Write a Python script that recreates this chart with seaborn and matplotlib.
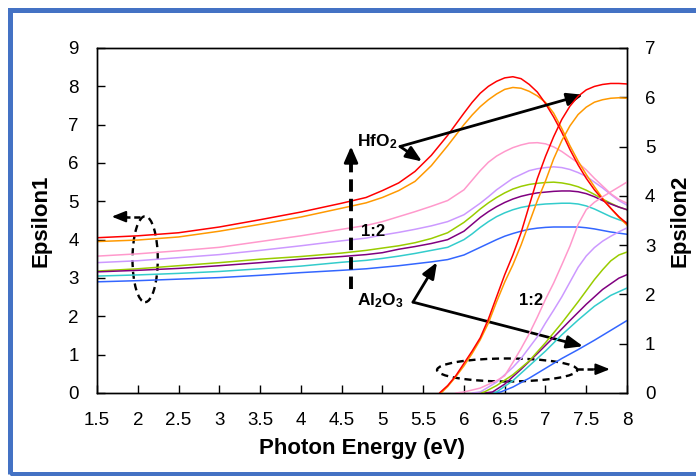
import matplotlib
matplotlib.use("Agg")
import matplotlib.pyplot as plt
from matplotlib.patches import Ellipse, Rectangle
import seaborn as sns

# ---------------- data ----------------
energy_e1 = [1.5, 2.0, 2.5, 3.0, 3.5, 4.0, 4.5, 4.8, 5.0, 5.2, 5.4, 5.6, 5.8, 6.0, 6.1, 6.2, 6.3,
             6.4, 6.5, 6.6, 6.7, 6.8, 6.9, 7.0, 7.1, 7.2, 7.3, 7.4, 7.5, 7.6, 7.7, 7.8, 7.9, 8.0]

e1_red = [4.05, 4.10, 4.18, 4.33, 4.52, 4.72, 4.95, 5.10, 5.28, 5.48, 5.78, 6.20, 6.72, 7.30, 7.58, 7.82, 8.00,
          8.13, 8.22, 8.25, 8.20, 8.05, 7.85, 7.55, 7.20, 6.80, 6.35, 5.95, 5.60, 5.30, 5.05, 4.82, 4.60, 4.42]
e1_orange = [3.95, 3.99, 4.07, 4.22, 4.40, 4.59, 4.82, 4.96, 5.10, 5.28, 5.52, 5.93, 6.45, 7.00, 7.25, 7.47, 7.65,
             7.80, 7.92, 7.97, 7.95, 7.87, 7.75, 7.58, 7.30, 6.90, 6.45, 6.05, 5.70, 5.38, 5.08, 4.82, 4.58, 4.38]
e1_pink = [3.57, 3.63, 3.71, 3.80, 3.95, 4.10, 4.27, 4.37, 4.47, 4.60, 4.73, 4.87, 5.02, 5.30, 5.55, 5.80, 6.02,
           6.18, 6.30, 6.40, 6.47, 6.52, 6.53, 6.50, 6.42, 6.30, 6.15, 6.00, 5.82, 5.60, 5.40, 5.20, 5.05, 4.95]
e1_lavender = [3.40, 3.45, 3.53, 3.61, 3.72, 3.84, 3.97, 4.04, 4.12, 4.19, 4.27, 4.36, 4.47, 4.65, 4.80, 4.95, 5.12,
               5.30, 5.45, 5.60, 5.70, 5.80, 5.85, 5.88, 5.90, 5.88, 5.83, 5.75, 5.65, 5.50, 5.35, 5.18, 5.02, 4.90]
e1_green = [3.18, 3.24, 3.32, 3.40, 3.49, 3.56, 3.65, 3.72, 3.78, 3.84, 3.92, 4.03, 4.18, 4.45, 4.62, 4.80, 4.96,
            5.10, 5.22, 5.32, 5.39, 5.44, 5.47, 5.49, 5.50, 5.48, 5.44, 5.38, 5.29, 5.18, 5.06, 4.95, 4.85, 4.78]
e1_purple = [3.16, 3.20, 3.25, 3.32, 3.40, 3.49, 3.56, 3.61, 3.66, 3.75, 3.82, 3.90, 4.00, 4.22, 4.40, 4.58, 4.73,
             4.86, 4.97, 5.06, 5.13, 5.18, 5.22, 5.24, 5.26, 5.27, 5.27, 5.25, 5.20, 5.12, 5.02, 4.93, 4.85, 4.78]
e1_cyan = [3.05, 3.08, 3.12, 3.17, 3.24, 3.31, 3.41, 3.46, 3.51, 3.57, 3.64, 3.72, 3.80, 4.00, 4.15, 4.32, 4.47,
           4.60, 4.70, 4.78, 4.84, 4.88, 4.91, 4.93, 4.94, 4.95, 4.95, 4.93, 4.88, 4.80, 4.70, 4.60, 4.52, 4.45]
e1_blue = [2.90, 2.93, 2.97, 3.01, 3.07, 3.14, 3.20, 3.24, 3.28, 3.32, 3.37, 3.42, 3.48, 3.60, 3.70, 3.80, 3.90,
           4.00, 4.09, 4.16, 4.22, 4.27, 4.30, 4.32, 4.33, 4.33, 4.33, 4.33, 4.31, 4.28, 4.24, 4.20, 4.17, 4.14]

energy_e2_red = [5.7, 5.8, 5.9, 6.0, 6.1, 6.2, 6.3, 6.4, 6.5, 6.6, 6.7, 6.8, 6.9, 7.0, 7.1, 7.2, 7.3, 7.4,
                 7.5, 7.6, 7.7, 7.8, 7.9, 8.0]
e2_red = [0.0, 0.15, 0.35, 0.60, 0.85, 1.12, 1.50, 1.95, 2.40, 2.80, 3.25, 3.80, 4.35, 4.80, 5.20, 5.55, 5.82,
          6.02, 6.15, 6.22, 6.26, 6.28, 6.28, 6.27]
energy_e2_orange = [5.72, 5.8, 5.9, 6.0, 6.1, 6.2, 6.3, 6.4, 6.5, 6.6, 6.7, 6.8, 6.9, 7.0, 7.1, 7.2, 7.3, 7.4,
                    7.5, 7.6, 7.7, 7.8, 7.9, 8.0]
e2_orange = [0.0, 0.13, 0.33, 0.55, 0.80, 1.08, 1.42, 1.85, 2.25, 2.60, 3.00, 3.45, 3.90, 4.30, 4.75, 5.12, 5.42,
             5.65, 5.80, 5.90, 5.95, 5.98, 5.99, 5.98]
energy_e2_pink = [5.9, 6.0, 6.2, 6.4, 6.5, 6.6, 6.7, 6.8, 6.9, 7.0, 7.1, 7.2, 7.3, 7.4, 7.5, 7.6, 7.7, 7.8, 7.9, 8.0]
e2_pink = [0.0, 0.02, 0.10, 0.25, 0.35, 0.62, 0.90, 1.20, 1.54, 1.90, 2.23, 2.60, 2.98, 3.42, 3.72, 3.87, 3.98,
           4.08, 4.18, 4.28]
energy_e2_lavender = [6.1, 6.2, 6.4, 6.6, 6.7, 6.8, 6.9, 7.0, 7.1, 7.2, 7.3, 7.4, 7.5, 7.6, 7.7, 7.8, 7.9, 8.0]
e2_lavender = [0.0, 0.02, 0.22, 0.52, 0.70, 0.92, 1.14, 1.42, 1.68, 1.95, 2.25, 2.55, 2.78, 2.95, 3.08, 3.18,
               3.27, 3.35]
energy_e2_green = [6.15, 6.25, 6.4, 6.6, 6.8, 7.0, 7.2, 7.4, 7.6, 7.7, 7.8, 7.9, 8.0]
e2_green = [0.0, 0.02, 0.15, 0.37, 0.65, 1.02, 1.42, 1.85, 2.30, 2.50, 2.68, 2.80, 2.86]
energy_e2_purple = [6.25, 6.35, 6.5, 6.7, 6.9, 7.1, 7.3, 7.5, 7.7, 7.9, 8.0]
e2_purple = [0.0, 0.02, 0.18, 0.48, 0.80, 1.13, 1.47, 1.80, 2.10, 2.33, 2.40]
energy_e2_cyan = [6.3, 6.4, 6.6, 6.8, 7.0, 7.2, 7.4, 7.6, 7.8, 8.0]
e2_cyan = [0.0, 0.02, 0.25, 0.55, 0.85, 1.18, 1.48, 1.76, 1.98, 2.13]
energy_e2_blue = [6.35, 6.45, 6.6, 6.8, 7.0, 7.2, 7.4, 7.6, 7.8, 8.0]
e2_blue = [0.0, 0.02, 0.12, 0.30, 0.50, 0.70, 0.88, 1.07, 1.27, 1.47]

x_ticks = [1.5, 2, 2.5, 3, 3.5, 4, 4.5, 5, 5.5, 6, 6.5, 7, 7.5, 8]
x_tick_labels = ["1.5", "2", "2.5", "3", "3.5", "4", "4.5", "5", "5.5", "6", "6.5", "7", "7.5", "8"]
y1_ticks = [0, 1, 2, 3, 4, 5, 6, 7, 8, 9]
y2_ticks = [0, 1, 2, 3, 4, 5, 6, 7]

colors = {"red": "#FF0000", "orange": "#FF9900", "pink": "#FF99CC", "lavender": "#CC99FF",
          "green": "#99CC00", "purple": "#800080", "cyan": "#33CCCC", "blue": "#3366FF"}

e1_series = [("green", e1_green), ("purple", e1_purple), ("blue", e1_blue), ("cyan", e1_cyan),
             ("lavender", e1_lavender), ("pink", e1_pink), ("orange", e1_orange), ("red", e1_red)]
e2_series = [("blue", energy_e2_blue, e2_blue), ("cyan", energy_e2_cyan, e2_cyan),
             ("purple", energy_e2_purple, e2_purple), ("green", energy_e2_green, e2_green),
             ("lavender", energy_e2_lavender, e2_lavender), ("pink", energy_e2_pink, e2_pink),
             ("orange", energy_e2_orange, e2_orange), ("red", energy_e2_red, e2_red)]

# ---------------- style ----------------
sns.set_theme(style="ticks")
plt.rcParams["font.family"] = ["Liberation Sans", "DejaVu Sans"]
plt.rcParams["mathtext.fontset"] = "custom"
plt.rcParams["mathtext.rm"] = "Liberation Sans"
plt.rcParams["mathtext.bf"] = "Liberation Sans:bold"
plt.rcParams["axes.linewidth"] = 1.0
plt.rcParams["axes.edgecolor"] = "black"
plt.rcParams["text.color"] = "black"
plt.rcParams["axes.labelcolor"] = "black"
plt.rcParams["xtick.color"] = "black"
plt.rcParams["ytick.color"] = "black"

fig = plt.figure(figsize=(6.96, 4.76), dpi=100)
fig.patch.set_facecolor("white")
ax1 = fig.add_axes([0.1394, 0.1744, 0.9009 - 0.1394, 0.8992 - 0.1744])
ax2 = ax1.twinx()

for name, vals in e1_series:
    sns.lineplot(x=energy_e1, y=vals, ax=ax1, color=colors[name], linewidth=1.1, legend=False)
for name, xs, vals in e2_series:
    sns.lineplot(x=xs, y=vals, ax=ax2, color=colors[name], linewidth=1.1, legend=False)

ax1.set_xlim(1.5, 8)
ax1.set_ylim(0, 9)
ax2.set_ylim(0, 7)
ax1.set_xticks(x_ticks)
ax1.set_xticklabels(x_tick_labels)
ax1.set_yticks(y1_ticks)
ax2.set_yticks(y2_ticks)

for ax in (ax1, ax2):
    for s in ax.spines.values():
        s.set_visible(True)
        s.set_color("black")
        s.set_linewidth(1.0)
ax1.tick_params(axis="both", direction="in", length=5.5, width=1.0, labelsize=13.5, colors="black")
ax1.tick_params(axis="y", pad=13)
ax1.tick_params(axis="x", pad=14)
ax2.tick_params(axis="y", direction="in", length=5.5, width=1.0, labelsize=13.5, pad=13, colors="black")

ax1.set_xlabel("Photon Energy (eV)", fontsize=16, fontweight="bold", labelpad=6, color="black")
ax1.set_ylabel("Epsilon1", fontsize=16, fontweight="bold", labelpad=12, color="black")
ax2.set_ylabel("Epsilon2", fontsize=16, fontweight="bold", labelpad=10, rotation=90, color="black")

# ---------------- annotations (in Epsilon1 data coordinates) ----------------
solid = dict(arrowstyle="-|>,head_length=0.8,head_width=0.32", color="black", lw=2.0, shrinkA=0, shrinkB=0)

ax1.text(4.93, 6.56, r"$\mathbf{HfO_2}$", fontsize=12.5, ha="center", va="center")
ax1.annotate("", xy=(7.46, 7.78), xytext=(5.216, 6.43), arrowprops=solid)
ax1.annotate("", xy=(5.486, 6.04), xytext=(5.216, 6.43), arrowprops=solid)

ax1.text(4.97, 2.42, r"$\mathbf{Al_2O_3}$", fontsize=12.5, ha="center", va="center")
ax1.annotate("", xy=(5.67, 3.41), xytext=(5.375, 2.37), arrowprops=solid)
ax1.annotate("", xy=(7.46, 1.22), xytext=(5.375, 2.37), arrowprops=solid)

ax1.text(4.88, 4.21, "1:2", fontsize=12, fontweight="bold", ha="center", va="center")
ax1.text(6.82, 2.42, "1:2", fontsize=12, fontweight="bold", ha="center", va="center")

# vertical dashed arrow
ax1.plot([4.615, 4.615], [2.71, 6.1], color="black", lw=2.8, linestyle=(0, (3.2, 1.8)), solid_capstyle="butt")
ax1.annotate("", xy=(4.615, 6.43), xytext=(4.615, 6.0),
             arrowprops=dict(arrowstyle="-|>,head_length=0.8,head_width=0.35", color="black", lw=2.0,
                             shrinkA=0, shrinkB=0))

# left dashed ellipse + arrow
ax1.add_patch(Ellipse((2.09, 3.49), 0.31, 2.24, fill=False, ec="black", lw=1.7, linestyle=(0, (3, 2))))
ax1.plot([2.03, 1.85], [4.6, 4.6], color="black", lw=1.8, linestyle=(0, (2.5, 1.5)))
ax1.annotate("", xy=(1.68, 4.6), xytext=(1.86, 4.6),
             arrowprops=dict(arrowstyle="-|>,head_length=0.7,head_width=0.28", color="black", lw=1.5,
                             shrinkA=0, shrinkB=0))

# right dashed ellipse + arrow
ax1.add_patch(Ellipse((6.53, 0.60), 1.72, 0.60, fill=False, ec="black", lw=1.7, linestyle=(0, (3, 2))))
ax1.plot([7.39, 7.62], [0.62, 0.62], color="black", lw=1.8, linestyle=(0, (2.5, 1.5)))
ax1.annotate("", xy=(7.79, 0.62), xytext=(7.6, 0.62),
             arrowprops=dict(arrowstyle="-|>,head_length=0.7,head_width=0.28", color="black", lw=1.5,
                             shrinkA=0, shrinkB=0))

# blue frame around the figure
fig.add_artist(Rectangle((10 / 696, 1 - 474 / 476), 1.0, (474 - 9.5) / 476, transform=fig.transFigure,
                         fill=False, ec="#4472C4", lw=3.6, clip_on=False))

fig.savefig("out.png", dpi=100, facecolor="white")
